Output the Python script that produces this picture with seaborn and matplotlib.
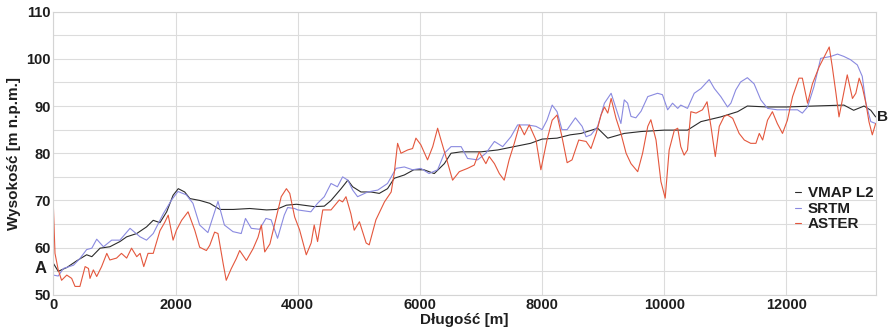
import numpy as np
import matplotlib
matplotlib.use('Agg')
import matplotlib.pyplot as plt
import seaborn as sns

# profile A-B, distance [m] vs elevation [m a.s.l.]
vmap_x = [0, 80, 220, 380, 545, 630, 765, 925, 1090, 1200, 1365, 1525, 1635, 1745, 1855, 1960,
          2045, 2150, 2235, 2400, 2560, 2725, 2945, 3215, 3490, 3650, 3815, 3980, 4270, 4435,
          4545, 4710, 4820, 4900, 5035, 5200, 5335, 5470, 5580, 5745, 5900, 6065, 6235, 6400,
          6510, 6675, 7000, 7275, 7540, 7810, 8000, 8245, 8460, 8640, 8910, 9075, 9345, 9620,
          10000, 10380, 10600, 10925, 11200, 11360, 11690, 12000, 12450, 12940, 13100, 13270,
          13380, 13460]
vmap_y = [56.7, 55, 55.8, 57.2, 58.5, 58.1, 59.9, 60.2, 61.3, 62.3, 63, 64.4, 65.8, 65.3, 67.6, 71.1,
          72.5, 71.8, 70.4, 70, 69.4, 68.1, 68.1, 68.3, 68, 68.1, 69, 69.2, 68.7, 68.8,
          70, 72.5, 74.3, 72.9, 71.8, 71.8, 71.5, 72.5, 74.7, 75.4, 76.5, 76.5, 75.7, 77.8,
          80, 80.3, 80.3, 80.7, 81.4, 82.1, 83, 83.2, 83.9, 84.2, 85.3, 83.2, 84.2, 84.6,
          84.9, 84.9, 86.7, 87.7, 88.8, 90, 89.8, 89.8, 90, 90.2, 89.1, 90,
          89.1, 87.7]

srtm_x = [0, 80, 165, 330, 435, 545, 630, 710, 820, 955, 1090, 1255, 1420, 1525, 1635, 1800, 1935,
          2040, 2176, 2285, 2395, 2530, 2695, 2800, 2940, 3075, 3145, 3240, 3375, 3480, 3565,
          3670, 3780, 3835, 3950, 4000, 4215, 4325, 4435, 4545, 4650, 4735, 4820, 4900, 4980,
          5145, 5310, 5470, 5610, 5745, 5880, 6015, 6150, 6290, 6400, 6510, 6675, 6780, 6945,
          7080, 7220, 7355, 7490, 7600, 7760, 7900, 8000, 8080, 8165, 8245, 8325, 8410, 8545,
          8655, 8720, 8800, 8910, 9020, 9130, 9210, 9290, 9345, 9400, 9455, 9535, 9620, 9730,
          9890, 9970, 10055, 10135, 10220, 10270, 10380, 10490, 10600, 10735, 10820, 10925,
          11035, 11090, 11170, 11250, 11360, 11470, 11580, 11690, 11850, 12015, 12180, 12260,
          12345, 12450, 12560, 12725, 12835, 12940, 13050, 13160, 13240, 13300, 13380, 13460]
srtm_y = [54.2, 54, 55.6, 56.3, 57.7, 59.6, 59.9, 61.8, 60.2, 61.6, 61.6, 64.1, 62.3, 61.6, 63, 67.2, 70.1,
          71.9, 71.2, 69.4, 64.8, 63.2, 69.8, 64.8, 63.4, 63, 66.2, 64.1, 63.9, 66.2, 65.9,
          62, 66.9, 68.5, 68.3, 68, 67.6, 69.4, 70.8, 73.6, 72.9, 75, 74.3, 72.2, 70.8,
          71.8, 72.2, 73.6, 76.8, 77.1, 76.5, 76.8, 75.7, 76.5, 80, 81.4, 81.4, 78.9, 78.6,
          80, 82.5, 81.4, 83.5, 86, 86, 85.7, 85, 87, 90.2, 88.8, 85, 85, 87.5,
          85.7, 83.5, 83.9, 85.7, 90.6, 92.7, 89.5, 86.3, 91.3, 90.6, 87.8, 87.5, 88.9, 92,
          92.7, 92.4, 89.2, 90.6, 89.5, 90.2, 89.5, 92.7, 93.7, 95.6, 93.7, 92,
          89.8, 90.6, 93.4, 95.1, 96, 94.7, 91.3, 89.5, 89.2, 89.2, 89.2, 88.5,
          89.8, 94.1, 100.1, 100.5, 101, 100.5, 99.8, 98.7, 96.3, 90.6, 86.7, 86.3]

aster_x = [0, 27, 80, 135, 220, 300, 355, 435, 520, 575, 600, 655, 710, 790, 875, 925, 1035, 1115,
           1200, 1280, 1365, 1420, 1480, 1550, 1635, 1745, 1825, 1880, 1960, 2015, 2100, 2205,
           2315, 2395, 2505, 2560, 2640, 2695, 2780, 2830, 2910, 2995, 3050, 3160, 3270, 3350,
           3405, 3460, 3545, 3650, 3730, 3815, 3870, 3950, 4030, 4140, 4220, 4270, 4325, 4410,
           4545, 4680, 4735, 4790, 4870, 4925, 5010, 5120, 5170, 5280, 5420, 5530, 5580, 5635,
           5690, 5800, 5880, 5935, 6015, 6125, 6210, 6290, 6345, 6425, 6535, 6645, 6780, 6890,
           6970, 7080, 7135, 7220, 7300, 7380, 7460, 7545, 7630, 7710, 7790, 7900, 7980, 8080,
           8165, 8245, 8325, 8410, 8490, 8600, 8720, 8800, 8885, 8965, 9020, 9075, 9130, 9210,
           9290, 9375, 9455, 9565, 9645, 9730, 9780, 9865, 9945, 10015, 10080, 10165, 10220,
           10270, 10325, 10380, 10435, 10520, 10625, 10700, 10765, 10835, 10900, 10980, 11035,
           11120, 11225, 11310, 11415, 11500, 11555, 11610, 11690, 11770, 11850, 11935, 12015,
           12100, 12205, 12260, 12345, 12425, 12535, 12645, 12700, 12750, 12810, 12860, 12915,
           12995, 13080, 13135, 13190, 13240, 13300, 13350, 13405, 13460]
aster_y = [69, 58.8, 55.3, 53.1, 54.2, 53.5, 51.8, 51.8, 56, 55.6, 53.5, 55.3, 53.9, 56, 58.8, 57.4, 57.8, 58.8,
           57.8, 59.9, 58.1, 58.8, 56, 58.8, 58.8, 63.6, 65.4, 66.9, 61.6, 63.7, 65.8, 67.6,
           63.7, 60.1, 59.4, 60.5, 63.3, 63, 56.6, 53.1, 55.5, 57.7, 59.4, 57.3, 59.8, 62.2,
           64.8, 59.1, 60.8, 66.5, 70.8, 72.5, 71.5, 66.5, 63.8, 58.5, 61, 64.8, 61.3, 68,
           68, 70.1, 69.7, 70.8, 67.2, 63.7, 65.5, 61, 60.6, 65.9, 69.7, 71.8, 75.8, 82.1,
           80, 80.7, 81, 83.2, 81.8, 78.6, 81.4, 85.3, 82.8, 79.3, 74.3, 76.1, 76.8, 77.5,
           80.3, 77.8, 79.3, 77.8, 75.7, 74.3, 78.6, 82.1, 86, 83.9, 86, 82.8, 76.5, 82.8,
           87, 88.1, 83.5, 78, 78.6, 82.8, 82.5, 81, 84.2, 88.1, 89.8, 88.5, 91.6, 87.4,
           84.2, 80, 77.8, 76.1, 80, 85.7, 87.1, 82.8, 74, 70.5, 80.7, 84.9, 85.3,
           81.4, 79.6, 80.7, 88.8, 88.5, 89.2, 90.9, 85.6, 79.3, 85.7, 87.8, 88.1,
           87.4, 84.2, 82.8, 82.1, 82.1, 84.2, 82.8, 87, 88.8, 86.3, 84.2, 87,
           92, 95.9, 95.9, 90.6, 94.7, 98.3, 101.1, 102.5, 98.3, 92.7, 87.7, 91.3,
           96.6, 91.6, 92.7, 95.9, 94.1, 90.6, 86.7, 83.9, 86.3]

x_ticks = [0, 2000, 4000, 6000, 8000, 10000, 12000]
y_ticks = [50, 60, 70, 80, 90, 100, 110]


def main():
    sns.set_theme(style='whitegrid')
    plt.rcParams['font.family'] = ['Liberation Sans', 'DejaVu Sans']
    txt = '#1e1e1e'

    fig, ax = plt.subplots(figsize=(8.89, 3.31), dpi=100)
    fig.subplots_adjust(left=0.060, right=0.985, top=0.965, bottom=0.109)

    sns.lineplot(x=vmap_x, y=vmap_y, ax=ax, color='#2b2b2b', lw=0.8, label='VMAP L2')
    sns.lineplot(x=srtm_x, y=srtm_y, ax=ax, color='#8a8ae0', lw=0.8, label='SRTM')
    sns.lineplot(x=aster_x, y=aster_y, ax=ax, color='#e4573d', lw=0.8, label='ASTER')

    ax.set_xlim(0, 13460)
    ax.set_ylim(50, 110)
    ax.set_xticks(x_ticks)
    ax.set_yticks(y_ticks)
    ax.set_yticks(np.arange(55, 110, 10), minor=True)
    ax.grid(True, which='both', color='#dcdcdc', lw=0.8)
    ax.grid(False, which='minor', axis='x')
    ax.tick_params(length=0, labelsize=10.5, pad=2, labelcolor=txt)
    for lab in ax.get_xticklabels() + ax.get_yticklabels():
        lab.set_fontweight('bold')
    for s in ax.spines.values():
        s.set_color('#d4d4d4')
        s.set_linewidth(0.8)

    ax.set_xlabel('Długość [m]', fontsize=11, fontweight='bold', labelpad=1, color=txt)
    ax.set_ylabel('Wysokość [m n.p.m.]', fontsize=11, fontweight='bold', labelpad=4, color=txt)

    ax.text(-110, 55.7, 'A', fontsize=12, fontweight='bold', ha='right', va='center',
            color=txt, clip_on=False)
    ax.text(13478, 87.7, 'B', fontsize=11, fontweight='bold', ha='left', va='center',
            color=txt, clip_on=False)

    leg = ax.legend(loc='upper left', bbox_to_anchor=(0.893, 0.41), frameon=False,
                    handlelength=0.4, handletextpad=0.4, labelspacing=0.1, borderpad=0,
                    prop={'weight': 'bold', 'size': 11})
    for t in leg.get_texts():
        t.set_color(txt)

    plt.savefig('out.png', dpi=100)


if __name__ == '__main__':
    main()
